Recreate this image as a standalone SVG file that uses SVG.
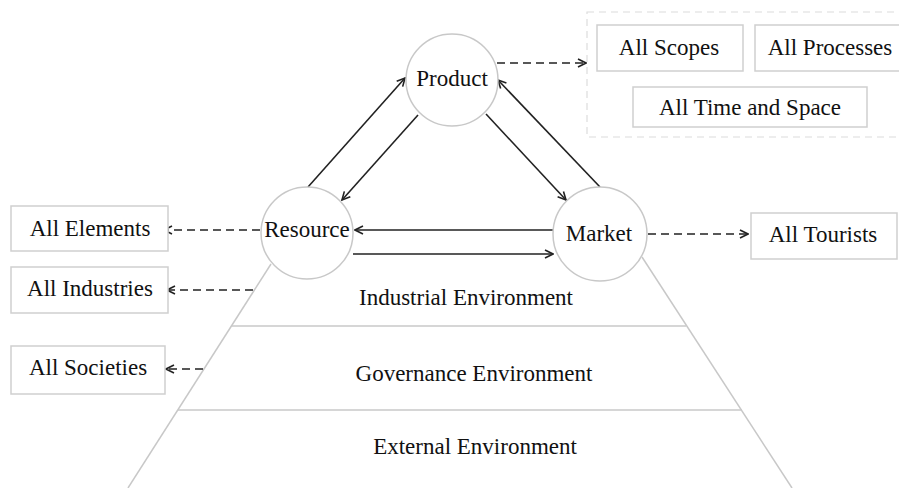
<svg xmlns="http://www.w3.org/2000/svg" width="899" height="488" viewBox="0 0 899 488">
<style>
text{font-family:"Liberation Serif","Times New Roman",serif;font-size:23px;fill:#111;text-anchor:middle}
.node{fill:#fff;stroke:#c8c8c8;stroke-width:1.5}
.box{fill:#fff;stroke:#cfcfcf;stroke-width:1.5}
.pyr{fill:none;stroke:#c8c8c8;stroke-width:1.5}
.solid{stroke:#222;stroke-width:1.6;fill:none;marker-end:url(#arr)}
.dash{stroke:#222;stroke-width:1.6;fill:none;stroke-dasharray:8,5;marker-end:url(#arr)}
</style>
<defs>
<marker id="arr" viewBox="0 0 10 10" refX="9" refY="5" markerWidth="10" markerHeight="10" markerUnits="userSpaceOnUse" orient="auto">
<path d="M1,1 L9,5 L1,9" fill="none" stroke="#222" stroke-width="1.6"/>
</marker>
</defs>
<rect width="899" height="488" fill="#fff"/>
<g id="pyramid">
<line class="pyr" x1="271" y1="264" x2="128" y2="488"/>
<line class="pyr" x1="642" y1="257" x2="792" y2="488"/>
<line class="pyr" x1="232" y1="326" x2="686" y2="326"/>
<line class="pyr" x1="178" y1="410" x2="742" y2="410"/>
<text x="466" y="305">Industrial Environment</text>
<text x="474" y="381">Governance Environment</text>
<text x="475" y="454">External Environment</text>
</g>
<g id="group-box">
<rect x="587" y="12" width="320" height="125" fill="none" stroke="#dcdcdc" stroke-width="1.2" stroke-dasharray="7,5"/>
</g>
<g id="connectors">
<line class="solid" x1="308" y1="187" x2="405" y2="78"/>
<line class="solid" x1="418" y1="115" x2="342" y2="200"/>
<line class="solid" x1="486" y1="114" x2="566" y2="200"/>
<line class="solid" x1="600" y1="187" x2="498" y2="80"/>
<line class="solid" x1="553" y1="230" x2="355" y2="230"/>
<line class="solid" x1="353" y1="254" x2="553" y2="254"/>
<line class="dash" x1="497" y1="63" x2="586" y2="63"/>
<line class="dash" x1="260" y1="230" x2="164" y2="230"/>
<line class="dash" x1="253" y1="290" x2="167" y2="290"/>
<line class="dash" x1="203" y1="369" x2="166" y2="369"/>
<line class="dash" x1="648" y1="234" x2="748" y2="234"/>
</g>
<g id="product"><circle class="node" cx="452" cy="80" r="46"/><text x="452" y="86">Product</text></g>
<g id="resource"><circle class="node" cx="307" cy="233" r="46"/><text x="307" y="237">Resource</text></g>
<g id="market"><circle class="node" cx="600" cy="234" r="47"/><text x="599" y="241">Market</text></g>
<g id="all-scopes"><rect class="box" x="597" y="25" width="146" height="46"/><text x="669" y="55">All Scopes</text></g>
<g id="all-processes"><rect class="box" x="755" y="25" width="150" height="46"/><text x="830" y="55">All Processes</text></g>
<g id="all-time-space"><rect class="box" x="633" y="87" width="234" height="40"/><text x="750" y="115">All Time and Space</text></g>
<g id="all-elements"><rect class="box" x="11" y="206" width="157" height="45"/><text x="90" y="236">All Elements</text></g>
<g id="all-industries"><rect class="box" x="11" y="267" width="157" height="46"/><text x="90" y="296">All Industries</text></g>
<g id="all-societies"><rect class="box" x="11" y="346" width="154" height="48"/><text x="88" y="375">All Societies</text></g>
<g id="all-tourists"><rect class="box" x="751" y="213" width="146" height="46"/><text x="823" y="242">All Tourists</text></g>
</svg>
